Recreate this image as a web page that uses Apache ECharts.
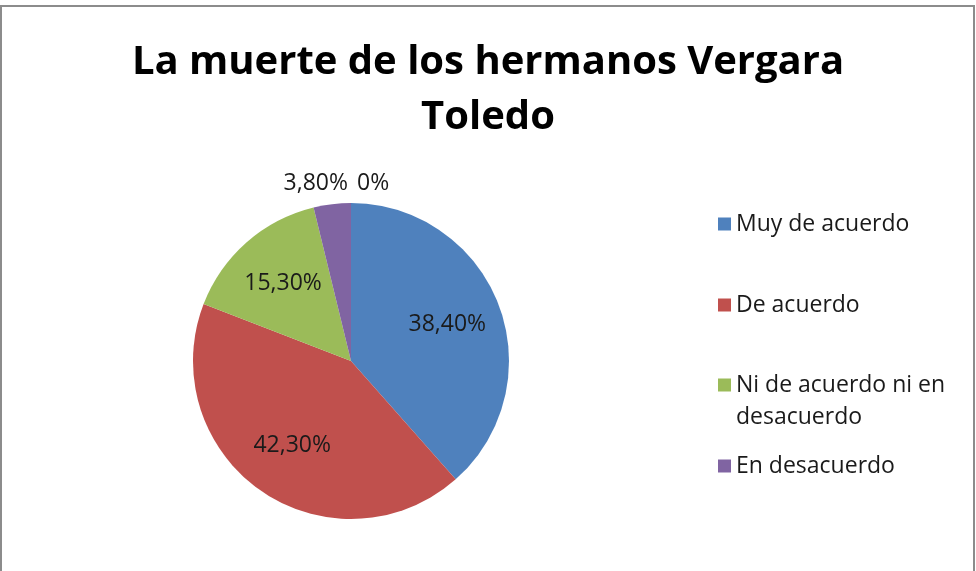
<!DOCTYPE html>
<html>
<head>
<meta charset="utf-8">
<script src="https://cdn.jsdelivr.net/npm/echarts@6/dist/echarts.min.js"></script>
<style>
  html, body { margin: 0; padding: 0; background: #fff; }
  #chart { width: 976px; height: 571px; }
</style>
</head>
<body>
<div id="chart"></div>
<script>
// data
var categories = ['Muy de acuerdo', 'De acuerdo', 'Ni de acuerdo ni en desacuerdo', 'En desacuerdo', 'Totalmente en desacuerdo'];
var values = [38.4, 42.3, 15.3, 3.8, 0];
var colors = ['#4F81BD', '#C0504D', '#9BBB59', '#8064A2', '#4BACC6'];
var titleLines = ['La muerte de los hermanos Vergara', 'Toledo'];

function pct(v) {
    return v === 0 ? '0%' : v.toFixed(2).replace('.', ',') + '%';
}

var myChart = echarts.init(document.getElementById('chart'));

var fontFamily = '"Open Sans", sans-serif';

// series 0 draws the slices, series 1 is an invisible wider copy that only carries the inside labels
var pieData = categories.map(function (name, i) {
    return {
        name: name,
        value: values[i],
        itemStyle: { color: colors[i] },
        label: { show: i >= 3 }
    };
});
var labelData = categories.map(function (name, i) {
    return {
        name: name,
        value: values[i],
        label: { show: i < 3 }
    };
});

function oneLegend(name, top, formatter) {
    var lg = {
        data: [name],
        orient: 'vertical',
        left: 718,
        top: top,
        padding: 0,
        itemWidth: 13,
        itemHeight: 13,
        icon: 'rect',
        selectedMode: false,
        textStyle: {
            fontFamily: fontFamily,
            fontSize: 23,
            color: '#1a1a1a',
            lineHeight: 32
        }
    };
    if (formatter) {
        lg.formatter = formatter;
    }
    return lg;
}

myChart.setOption({
    animation: false,
    backgroundColor: '#fff',
    title: {
        text: titleLines.join('\n'),
        left: 'center',
        top: 35,
        padding: 0,
        textStyle: {
            fontFamily: fontFamily,
            fontWeight: 'bold',
            fontSize: 40,
            lineHeight: 55,
            color: '#000'
        }
    },
    legend: [
        oneLegend(categories[0], 208),
        oneLegend(categories[1], 289),
        // blank first line keeps the marker level with the first line of text
        oneLegend(categories[2], 337, function () { return ' \nNi de acuerdo ni en\ndesacuerdo'; }),
        oneLegend(categories[3], 450)
    ],
    graphic: [{
        type: 'rect',
        shape: { x: 1, y: 6, width: 973, height: 600 },
        style: { fill: 'none', stroke: '#8c8c8c', lineWidth: 2 },
        silent: true
    }],
    series: [
        {
            type: 'pie',
            center: [351, 361],
            radius: [0, 158],
            startAngle: 90,
            clockwise: true,
            avoidLabelOverlap: false,
            emphasis: { disabled: true },
            itemStyle: { borderWidth: 0 },
            label: {
                position: 'outside',
                fontFamily: fontFamily,
                fontSize: 23,
                color: '#1a1a1a',
                formatter: function (p) { return pct(p.value); }
            },
            labelLine: { show: false },
            labelLayout: function (p) {
                if (p.dataIndex === 3) {
                    return { x: p.rect.x + p.rect.width - 3, y: p.rect.y - 20, align: 'right', verticalAlign: 'middle' };
                }
                if (p.dataIndex === 4) {
                    return { x: p.rect.x + 6, y: p.rect.y - 20, align: 'left', verticalAlign: 'middle' };
                }
                return {};
            },
            data: pieData
        },
        {
            type: 'pie',
            center: [351, 361],
            radius: [0, 200],
            startAngle: 90,
            clockwise: true,
            silent: true,
            avoidLabelOverlap: false,
            itemStyle: { color: 'rgba(0,0,0,0)', borderWidth: 0 },
            label: {
                position: 'inside',
                fontFamily: fontFamily,
                fontSize: 23,
                color: '#1a1a1a',
                formatter: function (p) { return pct(p.value); }
            },
            labelLine: { show: false },
            data: labelData
        }
    ]
});
</script>
</body>
</html>
